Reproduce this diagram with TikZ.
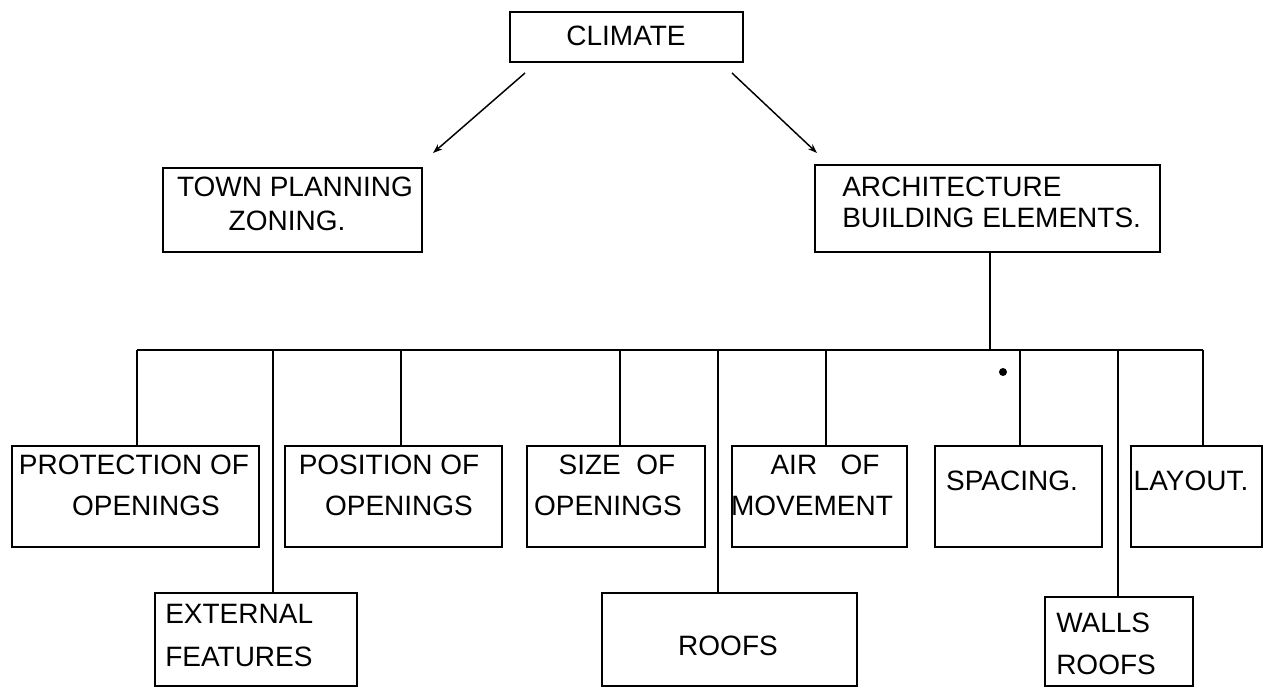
\documentclass[tikz,border=0pt]{standalone}
\usepackage{fontspec}
\setmainfont{Liberation Sans}
\usetikzlibrary{fit,arrows.meta}
\begin{document}
\begin{tikzpicture}[x=0.75pt,y=-0.75pt,
  box/.style={draw, line width=1.1pt, inner sep=0pt},
  txt/.style={inner sep=0pt, anchor=base, font=\fontsize{21}{25}\selectfont},
  txtl/.style={txt, anchor=base west},
  link/.style={line width=1.1pt},
  arrowlink/.style={line width=1.1pt, -{Stealth[length=7pt,width=5pt]}}]
\fill[white] (0,0) rectangle (1271,689);
\useasboundingbox (0,0) rectangle (1271,689);

% boxes
\node[box, fit={(510,12) (743,62)}] (climate) {};
\node[box, fit={(163,168) (422,252)}] (town) {};
\node[box, fit={(815,165) (1160,252)}] (arch) {};
\node[box, fit={(12,446) (259,547)}] (prot) {};
\node[box, fit={(285,446) (502,547)}] (posn) {};
\node[box, fit={(527,446) (705,547)}] (size) {};
\node[box, fit={(732,446) (907,547)}] (air) {};
\node[box, fit={(935,446) (1102,547)}] (spac) {};
\node[box, fit={(1131,446) (1262,547)}] (layout) {};
\node[box, fit={(155,593) (357,686)}] (ext) {};
\node[box, fit={(602,593) (857,686)}] (roofs) {};
\node[box, fit={(1045,597) (1193,686)}] (walls) {};

% labels
\node[txt] (climate-a) at (626,45) {CLIMATE};
\node[txt] (town-a) at (295,196) {TOWN PLANNING};
\node[txt] (town-b) at (287,230) {ZONING.};
\node[txtl] (arch-a) at (842,196) {ARCHITECTURE};
\node[txtl] (arch-b) at (842,227) {BUILDING ELEMENTS.};
\node[txt] (prot-a) at (134,474) {PROTECTION OF};
\node[txt] (prot-b) at (146,515) {OPENINGS};
\node[txt] (posn-a) at (389,474) {POSITION OF};
\node[txt] (posn-b) at (399,515) {OPENINGS};
\node[txt] (size-a) at (617,474) {SIZE\ \ OF};
\node[txt] (size-b) at (608,515) {OPENINGS};
\node[txt] (air-a) at (825,474) {AIR\ \ \ OF};
\node[txt] (air-b) at (812,515) {MOVEMENT};
\node[txt] (spac-a) at (1012,490) {SPACING.};
\node[txt] (layout-a) at (1191,490) {LAYOUT.};
\node[txtl] (ext-a) at (165,623) {EXTERNAL};
\node[txtl] (ext-b) at (165,666) {FEATURES};
\node[txt] (roofs-a) at (728,655) {ROOFS};
\node[txtl] (walls-a) at (1056,632) {WALLS};
\node[txtl] (walls-b) at (1056,674) {ROOFS};

% arrows from CLIMATE
\coordinate (la) at (525,73);
\coordinate (lb) at (433,153);
\coordinate (ra) at (732,73);
\coordinate (rb) at (817,153);
\draw[arrowlink] (la) -- (lb);
\draw[arrowlink] (ra) -- (rb);

% distribution bus below ARCHITECTURE
\coordinate (jn) at (990,350);
\coordinate (busL) at (137,350);
\coordinate (busR) at (1203,350);
\draw[link] (jn |- arch.south) -- (jn);
\draw[link] (busL) -- (busR);
\foreach \xx/\nd in {137/prot, 273/ext, 401/posn, 620/size, 718/roofs,
                     826/air, 1020/spac, 1118/walls, 1203/layout}
  \draw[link] (\xx,350) -- (\xx,350 |- \nd.north);

% ink dot
\fill (1003,372) circle [radius=4];
\end{tikzpicture}
\end{document}
